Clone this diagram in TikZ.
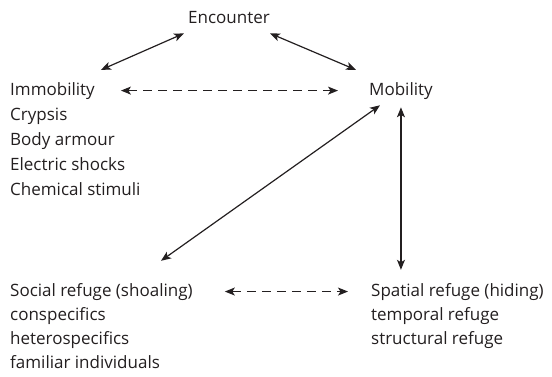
\documentclass[tikz,border=0pt]{standalone}
\usepackage{fontspec}
\setmainfont{Open Sans}
\usepackage{xcolor}
\usetikzlibrary{arrows.meta,positioning,calc}
\definecolor{ink}{HTML}{231F20}
\tikzset{
  head/.style={inner sep=0pt, anchor=base west, text=ink,
    font=\fontsize{17}{25}\selectfont},
  items/.style={inner sep=0pt, anchor=north west, align=left, text=ink,
    font=\fontsize{17}{25}\selectfont},
  itemsb/.style={items, font=\fontsize{17}{24}\selectfont},
  link/.style={{Stealth[length=10pt,width=8pt,inset=2.5pt]}-{Stealth[length=10pt,width=8pt,inset=2.5pt]},
    line width=1.2pt, draw=ink},
  dlink/.style={link, dash pattern=on 9pt off 6pt}
}

\begin{document}
\begin{tikzpicture}[x=1pt, y=-1pt]
  \useasboundingbox (0,0) rectangle (552,376);

  % headings
  \node[head] (enc) at (188,23) {Encounter};
  \node[head] (imm) at (10,95) {Immobility};
  \node[head] (mob) at (369,95) {Mobility};
  \node[head] (soc) at (10,296) {Social refuge (shoaling)};
  \node[head] (spa) at (371,296) {Spatial refuge (hiding)};

  % lists under the headings
  \node[items] (immlist) at ([yshift=-7.5pt]imm.base west)
    {\strut Crypsis\\Body armour\\Electric shocks\\Chemical stimuli};
  \node[itemsb] (soclist) at ([yshift=-7.2pt]soc.base west)
    {\strut conspecifics\\heterospecifics\\familiar individuals};
  \node[itemsb] (spalist) at ([yshift=-7.2pt]spa.base west)
    {\strut temporal refuge\\structural refuge};

  % connectors
  \draw[link] ([shift={(-4pt,-10pt)}]enc.south west) -- ([shift={(6pt,12pt)}]imm.north east);
  \draw[link] ([yshift=-10pt]enc.south east) -- ([shift={(-13pt,12pt)}]mob.north west);
  \draw[dlink] ([xshift=26pt]imm.east) -- ([xshift=-31pt]mob.west);
  \draw[link] ([shift={(151pt,22pt)}]soc.north west) -- ([shift={(11pt,-6pt)}]mob.south west);
  \draw[link] ([yshift=-8pt]mob.south) -- ([yshift=13pt]mob.south |- spa.north);
  \draw[dlink] ([xshift=32pt]soc.east) -- ([xshift=-23pt]spa.west);
\end{tikzpicture}
\end{document}
